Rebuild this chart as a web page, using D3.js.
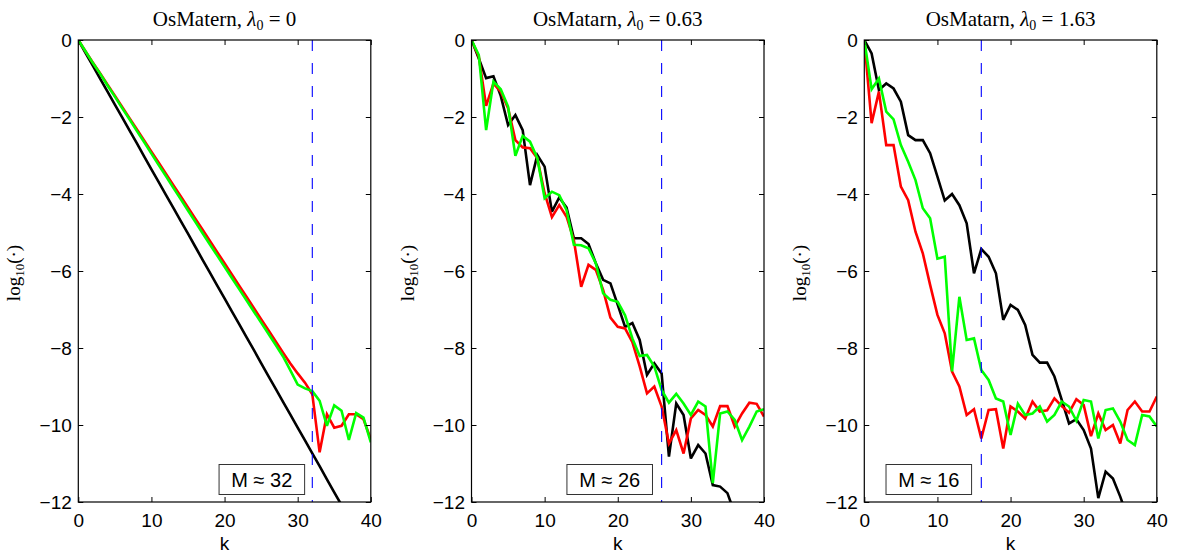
<!DOCTYPE html>
<html><head><meta charset="utf-8">
<script src="https://cdn.jsdelivr.net/npm/d3@7"></script>
<style>body{margin:0;background:#fff}svg{display:block}</style>
</head><body>
<svg id="chart" width="1180" height="554"></svg>
<script>
// ---------- data ----------
const kTicks = [0, 10, 20, 30, 40];
const yTicks = [0, -2, -4, -6, -8, -10, -12];
const panelNames = ["OsMatern", "OsMatarn", "OsMatarn"];
const lambda0 = ["0", "0.63", "1.63"];
const Mvalues = [32, 26, 16];

// panel 1 (lambda0 = 0), index = k
const black1 = [0,-0.34,-0.67,-1.01,-1.34,-1.68,-2.01,-2.35,-2.68,-3.02,-3.36,-3.69,-4.03,-4.36,-4.70,-5.03,-5.37,-5.71,-6.04,-6.38,-6.71,-7.05,-7.38,-7.72,-8.05,-8.39,-8.73,-9.06,-9.40,-9.73,-10.07,-10.40,-10.74,-11.07,-11.41,-11.75,-12.08];
const red1 = [0,-0.30,-0.59,-0.87,-1.16,-1.45,-1.74,-2.03,-2.32,-2.61,-2.90,-3.19,-3.48,-3.77,-4.06,-4.35,-4.64,-4.93,-5.22,-5.51,-5.80,-6.09,-6.38,-6.67,-6.96,-7.25,-7.54,-7.83,-8.12,-8.40,-8.66,-8.90,-9.20,-10.71,-9.72,-10.07,-10.02,-9.72,-9.72,-9.85,-10.37];
const green1 = [0,-0.30,-0.60,-0.88,-1.18,-1.47,-1.77,-2.06,-2.36,-2.65,-2.95,-3.25,-3.54,-3.84,-4.13,-4.43,-4.72,-5.02,-5.31,-5.60,-5.89,-6.18,-6.47,-6.76,-7.05,-7.34,-7.63,-7.92,-8.22,-8.58,-8.95,-9.05,-9.12,-9.37,-10.02,-9.49,-9.63,-10.39,-9.69,-9.81,-10.45];

// panel 2 (lambda0 = 0.63)
const black2 = [0,-0.48,-0.99,-0.94,-1.45,-2.21,-1.95,-2.34,-3.77,-2.99,-3.29,-4.46,-4.09,-4.35,-5.15,-5.15,-5.30,-5.80,-6.23,-6.32,-6.88,-7.45,-7.35,-7.79,-8.70,-8.40,-8.66,-10.82,-9.44,-9.74,-10.87,-10.52,-10.74,-11.56,-11.60,-11.77,-12.30];
const red2 = [0,-0.43,-1.71,-1.13,-1.34,-1.77,-2.60,-2.79,-2.81,-3.07,-3.98,-4.60,-4.29,-4.59,-5.20,-6.41,-5.84,-5.97,-6.49,-7.21,-7.45,-7.49,-7.85,-8.48,-9.18,-9.00,-9.52,-10.48,-10.13,-10.74,-9.83,-9.61,-9.74,-10.04,-9.51,-9.51,-10.04,-9.70,-9.42,-9.45,-9.78];
const green2 = [0,-0.39,-2.34,-1.08,-1.28,-1.73,-3.01,-2.49,-2.64,-3.07,-4.11,-3.94,-4.03,-4.42,-5.32,-5.33,-5.41,-5.80,-6.58,-6.75,-6.80,-7.15,-7.75,-8.21,-8.18,-8.48,-9.09,-9.42,-9.19,-9.44,-9.74,-9.39,-9.52,-11.51,-9.70,-9.65,-9.87,-10.39,-10.04,-9.65,-9.59];

// panel 3 (lambda0 = 1.63)
const black3 = [0,-0.35,-1.30,-1.13,-1.26,-1.60,-2.47,-2.60,-2.60,-2.94,-3.55,-4.17,-4.00,-4.29,-4.76,-6.06,-5.43,-5.63,-6.06,-7.27,-6.88,-7.01,-7.40,-8.18,-8.38,-8.38,-8.74,-9.35,-9.96,-9.85,-10.13,-10.61,-11.90,-11.21,-11.39,-11.86,-12.40];
const red3 = [0,-2.16,-1.34,-2.73,-2.73,-3.81,-4.16,-4.98,-5.54,-6.36,-7.14,-7.62,-8.61,-9.00,-9.74,-9.59,-10.35,-9.61,-9.59,-10.61,-9.52,-9.65,-9.83,-9.39,-9.65,-9.62,-9.31,-9.51,-9.68,-9.33,-9.48,-10.29,-9.70,-10.13,-10.00,-10.48,-9.61,-9.39,-9.65,-9.65,-9.26];
const green3 = [0,-1.28,-1.00,-1.86,-2.06,-2.73,-3.16,-3.64,-4.37,-4.63,-5.68,-5.63,-8.61,-6.67,-7.79,-7.75,-8.57,-8.83,-9.31,-9.39,-10.26,-9.45,-9.74,-9.70,-9.52,-9.91,-9.74,-9.39,-9.52,-9.89,-9.35,-9.39,-10.35,-9.61,-9.57,-9.91,-10.39,-10.52,-9.74,-9.78,-10.04];

const blackSeries = [black1, black2, black3];
const redSeries = [red1, red2, red3];
const greenSeries = [green1, green2, green3];

// ---------- layout ----------
const panelLeft = [78.3, 471.5, 864.3];
const panelW = 292.5, plotTop = 40, plotBottom = 502;
const boxLeftK = [19.25, 13.05, 2.97]; // legend box left edge in k units
const boxWidthK = 11.7;

const svg = d3.select("#chart");
const sansFont = "'Liberation Sans', Arial, Helvetica, sans-serif";
const serifFont = "'Liberation Serif', 'Times New Roman', serif";

panelLeft.forEach((left, p) => {
  const x = d3.scaleLinear().domain([0, 40]).range([left, left + panelW]);
  const y = d3.scaleLinear().domain([-12, 0]).range([plotBottom, plotTop]);
  const g = svg.append("g");

  const clipId = "clip" + p;
  svg.append("clipPath").attr("id", clipId).append("rect")
    .attr("x", left).attr("y", plotTop).attr("width", panelW).attr("height", plotBottom - plotTop);

  const line = d3.line().x((d, i) => x(i)).y(d => y(d));
  const plot = g.append("g").attr("clip-path", `url(#${clipId})`);
  [[blackSeries[p], "#000000"], [redSeries[p], "#ff0000"], [greenSeries[p], "#00ff00"]].forEach(([s, c]) => {
    plot.append("path").datum(s).attr("d", line)
      .attr("fill", "none").attr("stroke", c).attr("stroke-width", 2.6)
      .attr("stroke-linejoin", "miter").attr("stroke-miterlimit", 3);
  });

  // dashed M line
  plot.append("line")
    .attr("x1", x(Mvalues[p])).attr("x2", x(Mvalues[p]))
    .attr("y1", y(0)).attr("y2", y(-12))
    .attr("stroke", "#0000ff").attr("stroke-width", 1.1)
    .attr("stroke-dasharray", "11,12");

  // axes
  const fs = "19px";
  const ax = g.append("g").attr("transform", `translate(0,${plotBottom})`)
    .call(d3.axisBottom(x).tickValues(kTicks).tickSizeInner(-5).tickSizeOuter(0).tickPadding(11.5));
  const axT = g.append("g").attr("transform", `translate(0,${plotTop})`)
    .call(d3.axisTop(x).tickValues(kTicks).tickSizeInner(-5).tickSizeOuter(0).tickFormat(""));
  const ay = g.append("g").attr("transform", `translate(${left},0)`)
    .call(d3.axisLeft(y).tickValues(yTicks).tickSizeInner(-5).tickSizeOuter(0).tickPadding(6.5)
      .tickFormat(d => d === 0 ? "0" : "\u2212" + Math.abs(d)));
  const ayR = g.append("g").attr("transform", `translate(${left + panelW},0)`)
    .call(d3.axisRight(y).tickValues(yTicks).tickSizeInner(-5).tickSizeOuter(0).tickFormat(""));
  [ax, axT, ay, ayR].forEach(a => {
    a.select(".domain").remove();
    a.selectAll("line").attr("stroke", "#000").attr("stroke-width", 1);
    a.selectAll("text").attr("font-family", sansFont).attr("font-size", fs).attr("fill", "#000");
  });

  g.append("rect").attr("x", left).attr("y", plotTop).attr("width", panelW).attr("height", plotBottom - plotTop)
    .attr("fill", "none").attr("stroke", "#000").attr("stroke-width", 1.2);

  // x label
  g.append("text").attr("x", left + panelW / 2).attr("y", 550).attr("text-anchor", "middle")
    .attr("font-family", sansFont).attr("font-size", "19px").text("k");

  // y label
  const yl = g.append("text").attr("transform", `translate(${left - 58},${(plotTop + plotBottom) / 2 + 2}) rotate(-90)`)
    .attr("text-anchor", "middle").attr("font-family", serifFont).attr("font-size", "19px");
  yl.append("tspan").text("log");
  yl.append("tspan").attr("font-size", "13px").attr("dy", 4).text("10");
  yl.append("tspan").attr("dy", -4).text("(\u00B7)");

  // title
  const t = g.append("text").attr("x", left + panelW / 2).attr("y", 26).attr("text-anchor", "middle")
    .attr("font-family", serifFont).attr("font-size", "21px");
  t.append("tspan").text(panelNames[p] + ", ");
  t.append("tspan").attr("font-style", "italic").text("\u03BB");
  t.append("tspan").attr("font-size", "14px").attr("dy", 4).text("0");
  t.append("tspan").attr("dy", -4).text(" = " + lambda0[p]);

  // legend box
  const bx = x(boxLeftK[p]), bw = x(boxWidthK) - x(0);
  g.append("rect").attr("x", bx).attr("y", 464.5).attr("width", bw).attr("height", 30)
    .attr("fill", "#fff").attr("stroke", "#333").attr("stroke-width", 1);
  g.append("text").attr("x", bx + bw / 2).attr("y", 487).attr("text-anchor", "middle")
    .attr("font-family", sansFont).attr("font-size", "20px").text("M \u2248 " + Mvalues[p]);
});
</script>
</body></html>
